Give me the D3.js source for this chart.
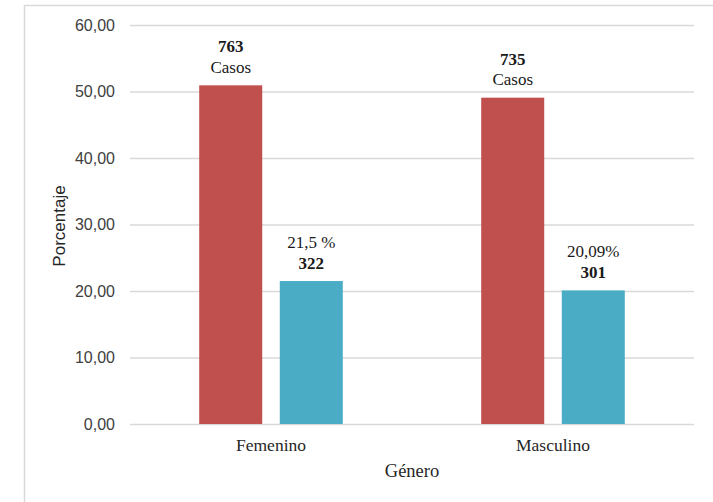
<!DOCTYPE html>
<html>
<head>
<meta charset="utf-8">
<script src="https://cdn.jsdelivr.net/npm/d3@7"></script>
<style>
  html, body { margin: 0; padding: 0; background: #ffffff; }
  svg { display: block; }
</style>
</head>
<body>
<script>
// Casos por género: porcentaje total de casos y subgrupo
const categories = ["Femenino", "Masculino"];
const seriesKeys = ["total", "subgrupo"];
const totalPct = [50.93, 49.07];
const totalCases = [763, 735];
const subPct = [21.5, 20.09];
const subCases = [322, 301];
const subPctLabels = ["21,5 %", "20,09%"];
const yTicks = [0, 10, 20, 30, 40, 50, 60];
const yTickLabels = ["0,00", "10,00", "20,00", "30,00", "40,00", "50,00", "60,00"];
const colors = { total: "#C0504D", subgrupo: "#4BACC6" };

const W = 713, H = 502;
const plot = { left: 130, right: 694, top: 25, bottom: 424 };
const serif = "'Liberation Serif', 'Times New Roman', serif";
const sans = "'Liberation Sans', Arial, sans-serif";

const svg = d3.select("body").append("svg")
  .attr("width", W).attr("height", H);

// outer frame (open to the right and bottom)
svg.append("path")
  .attr("d", `M24.5,${H} V5.5 H${W}`)
  .attr("fill", "none")
  .attr("stroke", "#d9d9d9")
  .attr("stroke-width", 1.5);

const y = d3.scaleLinear().domain([0, 60]).range([plot.bottom, plot.top]);
const x0 = d3.scaleBand().domain(categories).range([plot.left, plot.right]).padding(0);
const x1 = d3.scaleBand().domain(seriesKeys).range([0, x0.bandwidth()])
  .paddingInner(0.218).paddingOuter(0.859);

// y axis with gridlines
const yAxis = svg.append("g")
  .attr("transform", `translate(${plot.left},0)`)
  .call(d3.axisLeft(y)
    .tickValues(yTicks)
    .tickFormat((d, i) => yTickLabels[i])
    .tickSize(-(plot.right - plot.left))
    .tickPadding(15));
yAxis.select(".domain").remove();
yAxis.selectAll(".tick line").attr("stroke", "#d9d9d9").attr("stroke-width", 1.3);
yAxis.selectAll(".tick text")
  .attr("font-family", sans).attr("font-size", 16).attr("fill", "#404040");

// bars
const rows = categories.map((c, i) => ({
  cat: c,
  bars: [
    { key: "total", value: totalPct[i], top: String(totalCases[i]), bottom: "Casos", boldTop: true },
    { key: "subgrupo", value: subPct[i], top: subPctLabels[i], bottom: String(subCases[i]), boldTop: false }
  ]
}));

const groups = svg.selectAll("g.grp").data(rows).join("g")
  .attr("class", "grp")
  .attr("transform", d => `translate(${x0(d.cat)},0)`);

groups.selectAll("rect").data(d => d.bars).join("rect")
  .attr("x", d => x1(d.key))
  .attr("y", d => y(d.value))
  .attr("width", x1.bandwidth())
  .attr("height", d => y(0) - y(d.value))
  .attr("fill", d => colors[d.key]);

// two-line labels above each bar
groups.selectAll("text.l1").data(d => d.bars).join("text")
  .attr("class", "l1")
  .attr("x", d => x1(d.key) + x1.bandwidth() / 2)
  .attr("y", d => y(d.value) - 33)
  .attr("text-anchor", "middle")
  .attr("font-family", serif).attr("font-size", 17)
  .attr("font-weight", d => d.boldTop ? "bold" : "normal")
  .attr("fill", "#1a1a1a")
  .text(d => d.top);

groups.selectAll("text.l2").data(d => d.bars).join("text")
  .attr("class", "l2")
  .attr("x", d => x1(d.key) + x1.bandwidth() / 2)
  .attr("y", d => y(d.value) - 12.5)
  .attr("text-anchor", "middle")
  .attr("font-family", serif).attr("font-size", 17)
  .attr("font-weight", d => d.boldTop ? "normal" : "bold")
  .attr("fill", "#1a1a1a")
  .text(d => d.bottom);

// category labels
svg.selectAll("text.cat").data(categories).join("text")
  .attr("class", "cat")
  .attr("x", d => x0(d) + x0.bandwidth() / 2)
  .attr("y", 451)
  .attr("text-anchor", "middle")
  .attr("font-family", serif).attr("font-size", 17.5)
  .attr("fill", "#262626")
  .text(d => d);

// axis titles
svg.append("text")
  .attr("x", (plot.left + plot.right) / 2)
  .attr("y", 477)
  .attr("text-anchor", "middle")
  .attr("font-family", serif).attr("font-size", 18.5)
  .attr("fill", "#262626")
  .text("Género");

svg.append("text")
  .attr("transform", `translate(65,226) rotate(-90)`)
  .attr("text-anchor", "middle")
  .attr("font-family", sans).attr("font-size", 17)
  .attr("fill", "#262626")
  .text("Porcentaje");
</script>
</body>
</html>
